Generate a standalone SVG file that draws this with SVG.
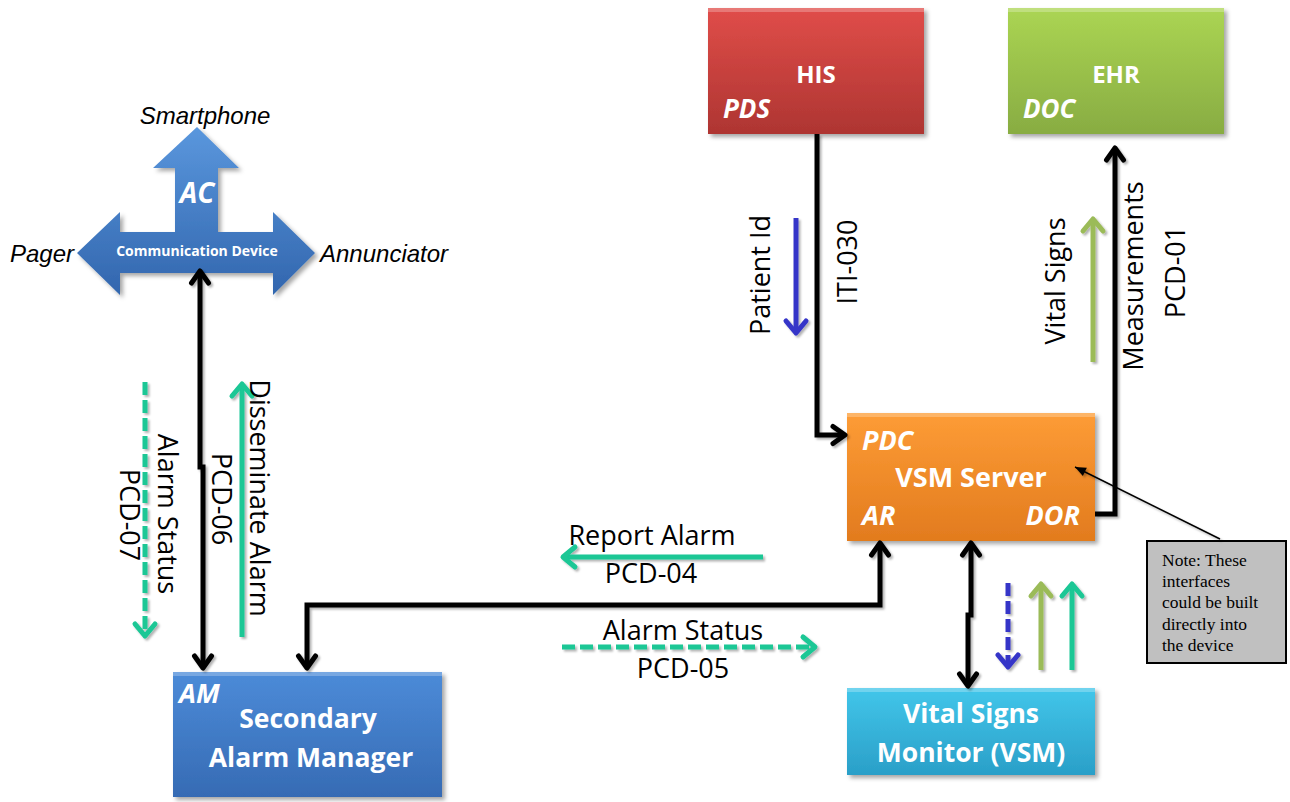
<svg xmlns="http://www.w3.org/2000/svg" width="1290" height="802" viewBox="0 0 1290 802">
<style>
.lbl{font-family:"Open Sans","Liberation Sans",sans-serif;font-size:27px;fill:#000}
.wb{font-family:"Open Sans","Liberation Sans",sans-serif;font-weight:bold;fill:#fff}
.wbi{font-family:"Open Sans","Liberation Sans",sans-serif;font-weight:bold;font-style:italic;fill:#fff}
.it{font-family:"Liberation Sans",Arial,sans-serif;font-style:italic;font-size:24px;fill:#000}
.note{font-family:"Liberation Serif","Times New Roman",serif;font-size:17.5px;fill:#000}
.k{fill:none;stroke:#000;stroke-width:5}
.teal{fill:none;stroke:#1AC795;stroke-width:5}
.grn{fill:none;stroke:#9BBB59;stroke-width:5}
.blu{fill:none;stroke:#3636C8;stroke-width:5}
.dash{stroke-dasharray:13 5}
.hi{fill:#fff;opacity:0.25}
</style>
<defs>
<linearGradient id="gRed" x1="0" y1="0" x2="0" y2="1"><stop offset="0" stop-color="#E04D49"/><stop offset="1" stop-color="#AE3532"/></linearGradient>
<linearGradient id="gGreen" x1="0" y1="0" x2="0" y2="1"><stop offset="0" stop-color="#ABD553"/><stop offset="1" stop-color="#88AC42"/></linearGradient>
<linearGradient id="gOrange" x1="0" y1="0" x2="0" y2="1"><stop offset="0" stop-color="#FD9C36"/><stop offset="1" stop-color="#E27B1E"/></linearGradient>
<linearGradient id="gCyan" x1="0" y1="0" x2="0" y2="1"><stop offset="0" stop-color="#42C6EA"/><stop offset="1" stop-color="#2A9FC8"/></linearGradient>
<linearGradient id="gBlue" x1="0" y1="0" x2="0" y2="1"><stop offset="0" stop-color="#4C8BD8"/><stop offset="1" stop-color="#366BB4"/></linearGradient>
<linearGradient id="gComm" x1="0" y1="0" x2="0" y2="1"><stop offset="0" stop-color="#5A97DD"/><stop offset="1" stop-color="#3266AE"/></linearGradient>
<filter id="sh" filterUnits="userSpaceOnUse" x="0" y="0" width="1290" height="802"><feDropShadow dx="3" dy="3" stdDeviation="2" flood-color="#000" flood-opacity="0.35"/></filter>
<filter id="lsh" filterUnits="userSpaceOnUse" x="0" y="0" width="1290" height="802"><feDropShadow dx="2" dy="2" stdDeviation="0.8" flood-color="#000" flood-opacity="0.3"/></filter>
<marker id="mK" markerWidth="20" markerHeight="20" refX="16" refY="10" orient="auto-start-reverse" markerUnits="userSpaceOnUse" overflow="visible"><path d="M4,1.5 L16,10 L4,18.5" fill="none" stroke="#000" stroke-width="5" stroke-linecap="round" stroke-linejoin="round"/></marker>
<marker id="mT" markerWidth="20" markerHeight="24" refX="16" refY="12" orient="auto-start-reverse" markerUnits="userSpaceOnUse" overflow="visible"><path d="M4,2 L16,12 L4,22" fill="none" stroke="#1AC795" stroke-width="5" stroke-linecap="round" stroke-linejoin="round"/></marker>
<marker id="mG" markerWidth="20" markerHeight="24" refX="16" refY="12" orient="auto-start-reverse" markerUnits="userSpaceOnUse" overflow="visible"><path d="M4,2 L16,12 L4,22" fill="none" stroke="#9BBB59" stroke-width="5" stroke-linecap="round" stroke-linejoin="round"/></marker>
<marker id="mB" markerWidth="20" markerHeight="24" refX="16" refY="12" orient="auto-start-reverse" markerUnits="userSpaceOnUse" overflow="visible"><path d="M4,2 L16,12 L4,22" fill="none" stroke="#3636C8" stroke-width="5" stroke-linecap="round" stroke-linejoin="round"/></marker>
<marker id="mN" markerWidth="12" markerHeight="10" refX="11" refY="4.5" orient="auto" markerUnits="userSpaceOnUse" overflow="visible"><path d="M0,0 L11,4.5 L0,9 Z" fill="#000"/></marker>
</defs>

<rect width="1290" height="802" fill="#fff"/>

<!-- Nodes -->
<g id="his">
<rect x="708" y="8" width="216" height="126" fill="url(#gRed)" filter="url(#sh)"/>
<rect class="hi" x="708" y="8" width="216" height="4"/>
<text class="wb" x="816" y="83" font-size="24" text-anchor="middle">HIS</text>
<text class="wbi" x="723" y="118" font-size="26">PDS</text>
</g>

<g id="ehr">
<rect x="1008" y="8" width="216" height="126" fill="url(#gGreen)" filter="url(#sh)"/>
<rect class="hi" x="1008" y="8" width="216" height="4"/>
<text class="wb" x="1116" y="83" font-size="24" text-anchor="middle">EHR</text>
<text class="wbi" x="1023" y="118" font-size="26">DOC</text>
</g>

<g id="vsm-server">
<rect x="847" y="413" width="248" height="128" fill="url(#gOrange)" filter="url(#sh)"/>
<rect class="hi" x="847" y="413" width="248" height="4"/>
<text class="wbi" x="862" y="450" font-size="27">PDC</text>
<text class="wb" x="971" y="487" font-size="27" text-anchor="middle">VSM Server</text>
<text class="wbi" x="862" y="525" font-size="27">AR</text>
<text class="wbi" x="1080" y="525" font-size="27" text-anchor="end">DOR</text>
</g>

<g id="vsm-monitor">
<rect x="847" y="688" width="248" height="87" fill="url(#gCyan)" filter="url(#sh)"/>
<rect class="hi" x="847" y="688" width="248" height="4"/>
<text class="wb" x="971" y="723" font-size="26.5" text-anchor="middle">Vital Signs</text>
<text class="wb" x="971" y="762" font-size="26.5" text-anchor="middle">Monitor (VSM)</text>
</g>

<g id="am">
<rect x="173" y="672" width="269" height="125" fill="url(#gBlue)" filter="url(#sh)"/>
<rect class="hi" x="173" y="672" width="269" height="4"/>
<text class="wbi" x="179" y="703" font-size="27">AM</text>
<text class="wb" x="308" y="728" font-size="26.5" text-anchor="middle">Secondary</text>
<text class="wb" x="311" y="767" font-size="26.5" text-anchor="middle">Alarm Manager</text>
</g>

<g id="comm-device">
<polygon points="197,127 239,168 218,168 218,232 273,232 273,212 315,253 273,295 273,273 120,273 120,295 77,253 120,212 120,232 175,232 175,168 153,168" fill="url(#gComm)" filter="url(#sh)"/>
<text class="wbi" x="197" y="203" font-size="28" text-anchor="middle">AC</text>
<text class="wb" x="197" y="256" font-size="14" text-anchor="middle">Communication Device</text>
<text class="it" x="205" y="124" text-anchor="middle">Smartphone</text>
<text class="it" x="10" y="262">Pager</text>
<text class="it" x="320" y="262">Annunciator</text>
</g>

<g id="note">
<rect x="1147" y="541" width="139" height="122" fill="#C0C0C0" stroke="#000" stroke-width="2"/>
<text class="note" x="1162" y="566">Note: These</text>
<text class="note" x="1162" y="587">interfaces</text>
<text class="note" x="1162" y="608">could be built</text>
<text class="note" x="1162" y="630">directly into</text>
<text class="note" x="1162" y="651">the device</text>
</g>

<!-- Connectors -->
<g id="connectors" filter="url(#lsh)">
<path class="k" d="M200,271 V467 H203 V668" marker-start="url(#mK)" marker-end="url(#mK)"/>
<path class="k" d="M307,668 V605 H880 V543" marker-start="url(#mK)" marker-end="url(#mK)"/>
<path class="k" d="M817,134 V435 H845" marker-end="url(#mK)"/>
<path class="k" d="M1095,514 H1115 V148" marker-end="url(#mK)"/>
<path class="k" d="M971,543 V615 H968 V686" marker-start="url(#mK)" marker-end="url(#mK)"/>
<path d="M1220,539 L1075,467" stroke="#000" stroke-width="1.5" fill="none" marker-end="url(#mN)"/>

<path class="blu" d="M796,218 V333" marker-end="url(#mB)"/>
<path class="grn" d="M1093,362 V219" marker-end="url(#mG)"/>
<path class="teal" d="M763,557 H563" marker-end="url(#mT)"/>
<path class="teal dash" d="M562,647 H815" marker-end="url(#mT)"/>
<path class="teal dash" d="M145,382 V636" marker-end="url(#mT)"/>
<path class="teal" d="M242,637 V384" marker-end="url(#mT)"/>
<path class="blu dash" d="M1008,583 V667" marker-end="url(#mB)"/>
<path class="grn" d="M1041,670 V584" marker-end="url(#mG)"/>
<path class="teal" d="M1072,670 V584" marker-end="url(#mT)"/>
</g>

<!-- Connector labels -->
<g id="labels">
<text class="lbl" transform="translate(770,275) rotate(-90)" text-anchor="middle">Patient Id</text>
<text class="lbl" transform="translate(857,262) rotate(-90)" text-anchor="middle">ITI-030</text>
<text class="lbl" transform="translate(1065,281) rotate(-90)" text-anchor="middle">Vital Signs</text>
<text class="lbl" transform="translate(1143,276) rotate(-90)" text-anchor="middle">Measurements</text>
<text class="lbl" transform="translate(1185,272) rotate(-90)" text-anchor="middle">PCD-01</text>
<text class="lbl" transform="translate(158,514) rotate(90)" text-anchor="middle">Alarm Status</text>
<text class="lbl" transform="translate(120,515) rotate(90)" text-anchor="middle">PCD-07</text>
<text class="lbl" transform="translate(250,498) rotate(90)" text-anchor="middle">Disseminate Alarm</text>
<text class="lbl" transform="translate(212,499) rotate(90)" text-anchor="middle">PCD-06</text>
<text class="lbl" x="652" y="545" text-anchor="middle">Report Alarm</text>
<text class="lbl" x="651" y="583" text-anchor="middle">PCD-04</text>
<text class="lbl" x="683" y="640" text-anchor="middle">Alarm Status</text>
<text class="lbl" x="683" y="678" text-anchor="middle">PCD-05</text>
</g>
</svg>
